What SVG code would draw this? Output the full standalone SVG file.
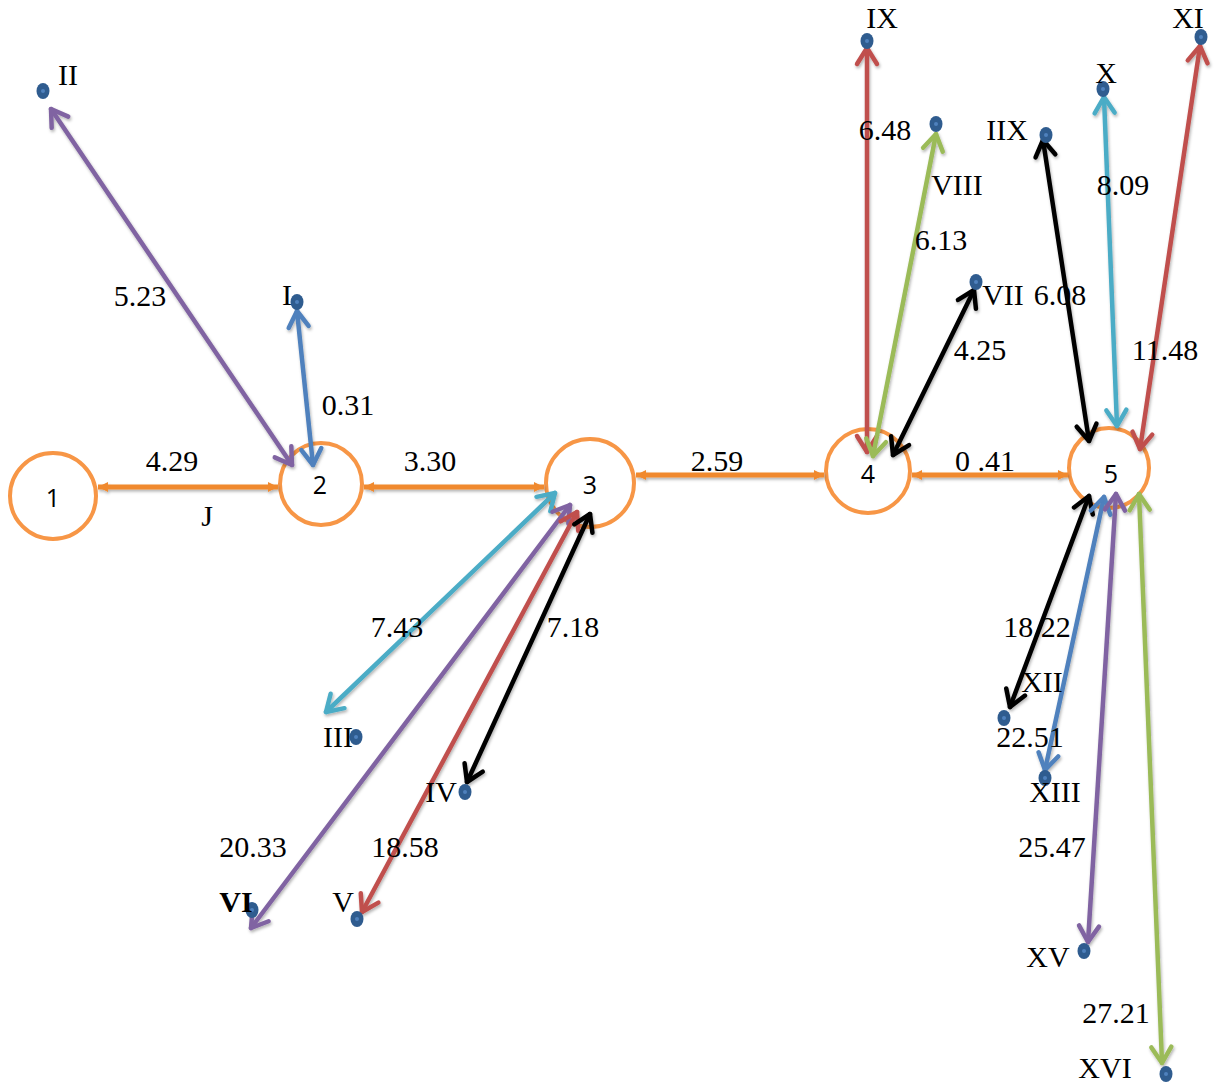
<svg xmlns="http://www.w3.org/2000/svg" width="1214" height="1084" viewBox="0 0 1214 1084">
  <style>
    .node circle { fill: #ffffff; stroke: #F79646; stroke-width: 4; }
    .node text { font-family: "Open Sans", "Liberation Sans", sans-serif; font-size: 25px; fill: #000; text-anchor: middle; }
    .lbl { font-family: "Liberation Serif", "Times New Roman", serif; font-size: 30px; fill: #000; text-anchor: middle; }
    .bold { font-weight: bold; }
    .main { stroke: #F0892F; stroke-width: 5; fill: none; marker-start: url(#tri); marker-end: url(#tri); }
    .arr { stroke-width: 4.5; fill: none; stroke-linecap: round; }
    .pu { stroke: #8064A2; marker-start: url(#a-pu); marker-end: url(#a-pu); }
    .bl { stroke: #4F81BD; marker-start: url(#a-bl); marker-end: url(#a-bl); }
    .cy { stroke: #4BACC6; marker-start: url(#a-cy); marker-end: url(#a-cy); }
    .rd { stroke: #C0504D; marker-start: url(#a-rd); marker-end: url(#a-rd); }
    .gr { stroke: #9BBB59; marker-start: url(#a-gr); marker-end: url(#a-gr); }
    .bk { stroke: #000000; marker-start: url(#a-bk); marker-end: url(#a-bk); }
    .dot { fill: #2F5C8F; }
    .dotc { fill: #4F81BD; }
  </style>
  <defs>
    <filter id="shadow" x="-20%" y="-20%" width="140%" height="140%">
      <feDropShadow dx="1" dy="2" stdDeviation="1.5" flood-color="#000" flood-opacity="0.3"/>
    </filter>
    <marker id="tri" markerUnits="userSpaceOnUse" viewBox="-12 -8 14 16" refX="0" refY="0" markerWidth="14" markerHeight="16" orient="auto-start-reverse">
      <path d="M -10 -5 L 0 0 L -10 5 Z" fill="#F0892F"/>
    </marker>
    <marker id="a-pu" markerUnits="userSpaceOnUse" viewBox="-22 -15 26 30" refX="0" refY="0" markerWidth="26" markerHeight="30" orient="auto-start-reverse">
      <path d="M -16 -10 L 0 0 L -16 10" fill="none" stroke="#8064A2" stroke-width="4.5" stroke-linecap="round" stroke-linejoin="round"/>
    </marker>
    <marker id="a-bl" markerUnits="userSpaceOnUse" viewBox="-22 -15 26 30" refX="0" refY="0" markerWidth="26" markerHeight="30" orient="auto-start-reverse">
      <path d="M -16 -10 L 0 0 L -16 10" fill="none" stroke="#4F81BD" stroke-width="4.5" stroke-linecap="round" stroke-linejoin="round"/>
    </marker>
    <marker id="a-cy" markerUnits="userSpaceOnUse" viewBox="-22 -15 26 30" refX="0" refY="0" markerWidth="26" markerHeight="30" orient="auto-start-reverse">
      <path d="M -16 -10 L 0 0 L -16 10" fill="none" stroke="#4BACC6" stroke-width="4.5" stroke-linecap="round" stroke-linejoin="round"/>
    </marker>
    <marker id="a-rd" markerUnits="userSpaceOnUse" viewBox="-22 -15 26 30" refX="0" refY="0" markerWidth="26" markerHeight="30" orient="auto-start-reverse">
      <path d="M -16 -10 L 0 0 L -16 10" fill="none" stroke="#C0504D" stroke-width="4.5" stroke-linecap="round" stroke-linejoin="round"/>
    </marker>
    <marker id="a-gr" markerUnits="userSpaceOnUse" viewBox="-22 -15 26 30" refX="0" refY="0" markerWidth="26" markerHeight="30" orient="auto-start-reverse">
      <path d="M -16 -10 L 0 0 L -16 10" fill="none" stroke="#9BBB59" stroke-width="4.5" stroke-linecap="round" stroke-linejoin="round"/>
    </marker>
    <marker id="a-bk" markerUnits="userSpaceOnUse" viewBox="-22 -15 26 30" refX="0" refY="0" markerWidth="26" markerHeight="30" orient="auto-start-reverse">
      <path d="M -16 -10 L 0 0 L -16 10" fill="none" stroke="#000000" stroke-width="4.5" stroke-linecap="round" stroke-linejoin="round"/>
    </marker>
    <g id="pt">
      <ellipse cx="0" cy="0" rx="6.5" ry="8" class="dot"/>
      <circle cx="0" cy="0" r="2" class="dotc"/>
    </g>
  </defs>

  <rect width="1214" height="1084" fill="#ffffff"/>

  <!-- circle nodes -->
  <g id="n1" class="node"><circle cx="53" cy="496" r="43"/><text x="53" y="507">1</text></g>
  <g id="n2" class="node"><circle cx="321" cy="484" r="41"/><text x="320" y="494">2</text></g>
  <g id="n3" class="node"><circle cx="590" cy="483" r="44"/><text x="590" y="494">3</text></g>
  <g id="n4" class="node"><circle cx="868" cy="471" r="42"/><text x="868" y="483">4</text></g>
  <g id="n5" class="node"><circle cx="1109" cy="468" r="40"/><text x="1111" y="483">5</text></g>

  <!-- chain and spokes -->
  <g id="connectors" filter="url(#shadow)">
    <line class="main" x1="98" y1="487" x2="278" y2="487"/>
    <line class="main" x1="364" y1="487" x2="544" y2="487"/>
    <line class="main" x1="636" y1="475" x2="824" y2="475"/>
    <line class="main" x1="912" y1="475" x2="1068" y2="475"/>

    <!-- node 2 -->
    <line class="arr pu" x1="51" y1="109" x2="292" y2="465"/>
    <line class="arr bl" x1="297" y1="311" x2="313" y2="465"/>

    <!-- node 3 -->
    <line class="arr cy" x1="555" y1="493" x2="326" y2="712"/>
    <line class="arr pu" x1="570" y1="505" x2="251" y2="928"/>
    <line class="arr rd" x1="577" y1="512" x2="362" y2="912"/>
    <line class="arr bk" x1="590" y1="514" x2="467" y2="782"/>

    <!-- node 4 -->
    <line class="arr rd" x1="867" y1="48" x2="867" y2="452"/>
    <line class="arr gr" x1="936" y1="134" x2="873" y2="456"/>
    <line class="arr bk" x1="974" y1="290" x2="893" y2="455"/>

    <!-- node 5 -->
    <line class="arr bk" x1="1043" y1="140" x2="1089" y2="441"/>
    <line class="arr cy" x1="1104" y1="97" x2="1117" y2="426"/>
    <line class="arr rd" x1="1200" y1="46" x2="1140" y2="449"/>
    <line class="arr bk" x1="1089" y1="496" x2="1010" y2="707"/>
    <line class="arr bl" x1="1104" y1="497" x2="1045" y2="770"/>
    <line class="arr pu" x1="1116" y1="494" x2="1088" y2="942"/>
    <line class="arr gr" x1="1139" y1="494" x2="1162" y2="1063"/>
  </g>

  <!-- end points -->
  <g id="pI"><use href="#pt" x="297" y="302"/><text class="lbl" x="287" y="305">I</text></g>
  <g id="pII"><use href="#pt" x="43" y="91"/><text class="lbl" x="68" y="85">II</text></g>
  <g id="pIII"><use href="#pt" x="356" y="737"/><text class="lbl" x="338" y="747">III</text></g>
  <g id="pIV"><use href="#pt" x="465" y="792"/><text class="lbl" x="441" y="802">IV</text></g>
  <g id="pV"><use href="#pt" x="357" y="919"/><text class="lbl" x="343" y="912">V</text></g>
  <g id="pVI"><use href="#pt" x="252" y="910"/><text class="lbl bold" x="236" y="912">VI</text></g>
  <g id="pVII"><use href="#pt" x="976" y="282"/><text class="lbl" x="1003" y="305">VII</text></g>
  <g id="pVIII"><use href="#pt" x="936" y="124"/><text class="lbl" x="957" y="195">VIII</text></g>
  <g id="pIX"><use href="#pt" x="867" y="41"/><text class="lbl" x="882" y="28">IX</text></g>
  <g id="pIIX"><use href="#pt" x="1046" y="135"/><text class="lbl" x="1007" y="140">IIX</text></g>
  <g id="pX"><use href="#pt" x="1103" y="89"/><text class="lbl" x="1106" y="83">X</text></g>
  <g id="pXI"><use href="#pt" x="1201" y="37"/><text class="lbl" x="1188" y="28">XI</text></g>
  <g id="pXII"><use href="#pt" x="1004" y="718"/><text class="lbl" x="1042" y="692">XII</text></g>
  <g id="pXIII"><use href="#pt" x="1045" y="778"/><text class="lbl" x="1055" y="802">XIII</text></g>
  <g id="pXV"><use href="#pt" x="1084" y="951"/><text class="lbl" x="1048" y="967">XV</text></g>
  <g id="pXVI"><use href="#pt" x="1166" y="1074"/><text class="lbl" x="1105" y="1078">XVI</text></g>

  <!-- distance labels -->
  <g id="distances">
    <text class="lbl" x="172" y="471">4.29</text>
    <text class="lbl" x="207" y="526">J</text>
    <text class="lbl" x="430" y="471">3.30</text>
    <text class="lbl" x="717" y="471">2.59</text>
    <text class="lbl" x="985" y="471">0 .41</text>
    <text class="lbl" x="140" y="306">5.23</text>
    <text class="lbl" x="348" y="415">0.31</text>
    <text class="lbl" x="885" y="140">6.48</text>
    <text class="lbl" x="941" y="250">6.13</text>
    <text class="lbl" x="1060" y="305">6.08</text>
    <text class="lbl" x="980" y="360">4.25</text>
    <text class="lbl" x="1123" y="195">8.09</text>
    <text class="lbl" x="1165" y="360">11.48</text>
    <text class="lbl" x="397" y="637">7.43</text>
    <text class="lbl" x="573" y="637">7.18</text>
    <text class="lbl" x="253" y="857">20.33</text>
    <text class="lbl" x="405" y="857">18.58</text>
    <text class="lbl" x="1037" y="637">18.22</text>
    <text class="lbl" x="1030" y="747">22.51</text>
    <text class="lbl" x="1052" y="857">25.47</text>
    <text class="lbl" x="1116" y="1023">27.21</text>
  </g>
</svg>
